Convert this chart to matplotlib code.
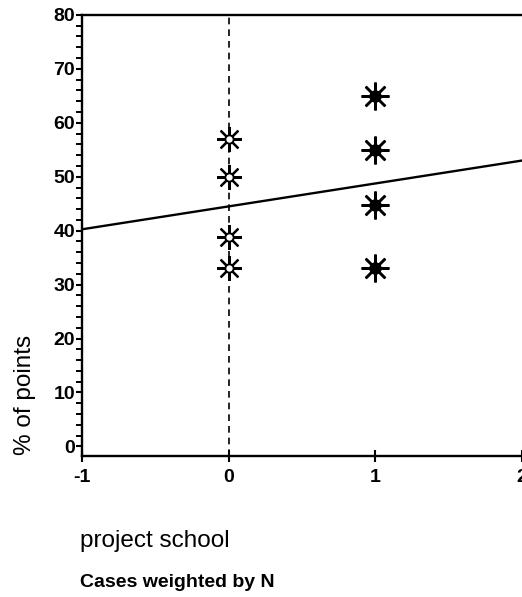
import numpy as np
import matplotlib.pyplot as plt
from matplotlib.ticker import MultipleLocator

plt.rcParams['font.family'] = ['Liberation Sans', 'DejaVu Sans']

# project school = 0 (non-project) and 1 (project)
x_non = [0, 0, 0, 0]
y_non = [57.0, 50.0, 38.8, 33.1]
x_proj = [1, 1, 1, 1]
y_proj = [65.0, 55.0, 44.8, 33.0]

# weighted regression line
intercept = 44.5
slope = 4.25

fig = plt.figure(figsize=(5.22, 5.97), dpi=100)
ax = fig.add_axes([0.157, 0.236, 0.843, 0.739])

xs = np.array([-1, 2])
ax.plot(xs, intercept + slope * xs, color='black', lw=1.7)
ax.axvline(0, color='black', ls=(0, (4, 3)), lw=1.2)

star = (8, 2, 0)
ax.plot(x_non, y_non, ls='none', marker=star, ms=18, mew=1.6, color='black')
ax.plot(x_non, y_non, ls='none', marker='o', ms=6, mew=1.4, mfc='white', mec='black')
ax.plot(x_proj, y_proj, ls='none', marker=star, ms=20, mew=1.8, color='black')
ax.plot(x_proj, y_proj, ls='none', marker='o', ms=8, color='black')

ax.set_xlim(-1, 2)
ax.set_ylim(-1.8, 80)
ax.set_xticks([-1, 0, 1, 2])
ax.set_xticklabels(['-1', '0', '1', '2'])
ax.yaxis.set_major_locator(MultipleLocator(10))
ax.yaxis.set_minor_locator(MultipleLocator(2))

for s in ['left', 'bottom', 'top']:
    ax.spines[s].set_linewidth(1.7)
ax.spines['right'].set_visible(False)

ax.tick_params(axis='y', which='major', length=4, width=1.5, labelsize=14, pad=1)
ax.tick_params(axis='y', which='minor', length=4, width=1.4)
ax.tick_params(axis='x', which='major', direction='inout', length=8, width=1.5,
               labelsize=14, pad=5)
for lab in ax.get_xticklabels() + ax.get_yticklabels():
    lab.set_fontweight('bold')

fig.text(0.048, 0.338, '% of points', rotation=90, ha='center', va='center', fontsize=17.5)
fig.text(0.153, 0.094, 'project school', ha='left', va='center', fontsize=17.5)
fig.text(0.153, 0.025, 'Cases weighted by N', ha='left', va='center', fontsize=14,
         fontweight='bold')

fig.savefig('out.png', dpi=100)
